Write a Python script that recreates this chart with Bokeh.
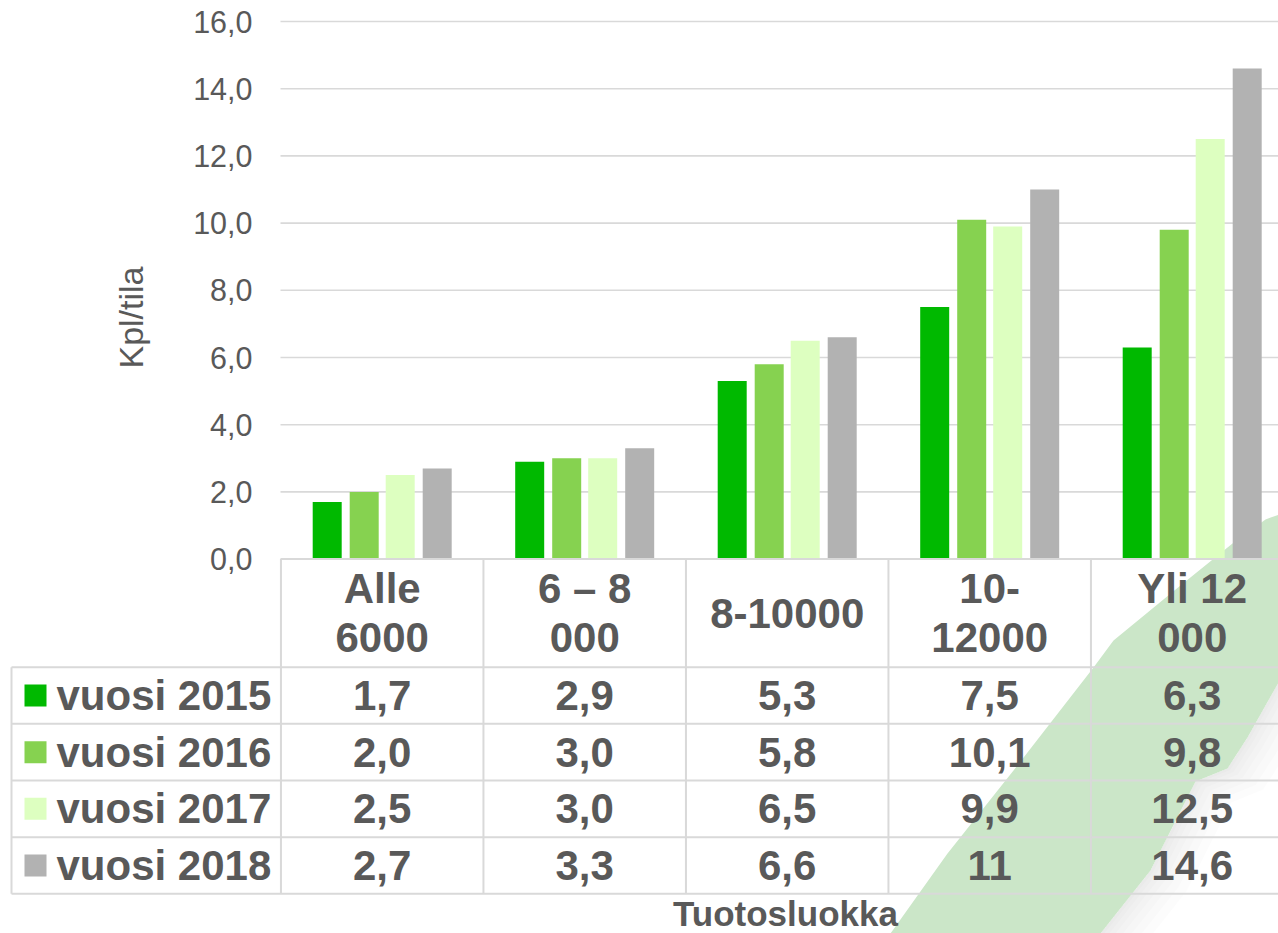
import math
from bokeh.plotting import figure
from bokeh.models import Range1d
from bokeh.core.properties import value
from bokeh.embed import file_html
from bokeh.resources import INLINE

# ---------------- data ----------------
categories = ["Alle 6000", "6 – 8 000", "8-10000", "10-12000", "Yli 12 000"]
header_lines = [["Alle", "6000"], ["6 – 8", "000"], ["8-10000"], ["10-", "12000"], ["Yli 12", "000"]]
series_names = ["vuosi 2015", "vuosi 2016", "vuosi 2017", "vuosi 2018"]
v2015 = [1.7, 2.9, 5.3, 7.5, 6.3]
v2016 = [2.0, 3.0, 5.8, 10.1, 9.8]
v2017 = [2.5, 3.0, 6.5, 9.9, 12.5]
v2018 = [2.7, 3.3, 6.6, 11.0, 14.6]
series_formats = ["fixed", "fixed", "fixed", "general"]
y_ticks = [0, 2, 4, 6, 8, 10, 12, 14, 16]
y_title = "Kpl/tila"
x_title = "Tuotosluokka"

series_values = [v2015, v2016, v2017, v2018]
colors = ["#00b900", "#86d250", "#ddffc0", "#b2b2b2"]

# ---------------- layout (pixel geometry of the picture) ----------------
W, H, OFF = 1278, 933, 0
PX_CAT, CAT0 = 202.5, 381.7       # px per category, centre of first category
PX_UNIT, ZERO = 33.6, 558.6       # px per value unit, y pixel of value 0


def X(px):
    return (px - CAT0) / PX_CAT


def Y(py):
    return (ZERO - py) / PX_UNIT


TXT = "#595959"
GRID = "#d9d9d9"
FONT = value("Liberation Sans")

p = figure(width=W, height=H,
           x_range=Range1d(X(OFF), X(OFF + W)),
           y_range=Range1d(Y(OFF + H), Y(OFF)),
           x_axis_location=None, y_axis_location=None,
           output_backend="svg", toolbar_location=None,
           min_border=0, outline_line_color=None)
p.grid.visible = False
p.background_fill_color = "white"

# ---------------- decorative swoosh (background) ----------------
# soft shadow to the lower right of the swoosh
sh = [(1295, 672), (1278, 682), (1247, 737), (1227, 768), (1195, 781), (1150, 870),
      (1100, 933)]
for d in [3, 7, 12, 18, 25, 33, 42]:
    pts = sh + [(a + d * 0.85, b + d * 0.5) for a, b in reversed(sh)]
    p.patch([X(a) for a, b in pts], [Y(b) for a, b in pts], fill_color="#8c8c8c",
            fill_alpha=0.022, line_color=None)
sw = [(890, 933), (947, 853), (1013, 770), (1093, 667), (1113, 640), (1180, 585),
      (1232, 543), (1265, 519), (1295, 508)] + sh
p.patch([X(a) for a, b in sw], [Y(b) for a, b in sw], fill_color="#cbe6c8",
        line_color=None)

# ---------------- gridlines ----------------
gy = y_ticks[1:]
p.segment(x0=[X(280)] * len(gy), x1=[X(1295)] * len(gy), y0=gy, y1=gy,
          line_color=GRID, line_width=1.6)

# ---------------- bars ----------------
offsets = [-55 / PX_CAT, -18 / PX_CAT, 18 / PX_CAT, 55 / PX_CAT]
bar_w = 29 / PX_CAT
for j, vals in enumerate(series_values):
    p.vbar(x=[i + offsets[j] for i in range(len(categories))], top=vals, bottom=0,
           width=bar_w, fill_color=colors[j], line_color=None)

# ---------------- y tick labels & title ----------------
p.text(x=[X(252)] * len(y_ticks), y=y_ticks,
       text=[f"{t:.1f}".replace(".", ",") for t in y_ticks],
       text_align="right", text_baseline="middle", text_font=FONT,
       text_font_size="30.5px", text_color=TXT)
p.text(x=[X(130)], y=[Y(317)], text=[y_title], angle=math.pi / 2,
       text_align="center", text_baseline="middle", text_font=FONT,
       text_font_size="34px", text_color=TXT)

# ---------------- data table ----------------
ROW_TOP, ROW_H = 666.7, 56.65
n = len(categories)
row_lines = [Y(ROW_TOP + ROW_H * r) for r in range(len(series_names) + 1)]
# horizontal lines
p.segment(x0=[X(280)], x1=[X(1295)], y0=[0], y1=[0], line_color=GRID, line_width=2)
p.segment(x0=[X(11)] * len(row_lines), x1=[X(1295)] * len(row_lines),
          y0=row_lines, y1=row_lines, line_color=GRID, line_width=2)
# vertical lines
vx = [i - 0.5 for i in range(n + 1)]
p.segment(x0=vx, x1=vx, y0=[0] * len(vx), y1=[row_lines[-1]] * len(vx),
          line_color=GRID, line_width=2)
p.segment(x0=[X(11)], x1=[X(11)], y0=[row_lines[0]], y1=[row_lines[-1]],
          line_color=GRID, line_width=2)

# header texts
hx, hy, ht = [], [], []
for i, lines in enumerate(header_lines):
    if len(lines) == 1:
        ys = [Y(613)]
    else:
        ys = [Y(588), Y(637)]
    for s, yy in zip(lines, ys):
        hx.append(i)
        hy.append(yy)
        ht.append(s)
p.text(x=hx, y=hy, text=ht, text_align="center", text_baseline="middle",
       text_font=FONT, text_font_style="bold", text_font_size="42px", text_color=TXT)


def fmt(v, kind):
    if kind == "general" and float(v).is_integer():
        return str(int(v))
    return f"{v:.1f}".replace(".", ",")


row_centres = [Y(ROW_TOP + ROW_H * (r + 0.5)) for r in range(len(series_names))]
for j, vals in enumerate(series_values):
    p.text(x=list(range(n)), y=[row_centres[j]] * n,
           text=[fmt(v, series_formats[j]) for v in vals],
           text_align="center", text_baseline="middle", text_font=FONT,
           text_font_style="bold", text_font_size="42px", text_color=TXT)

# legend keys in table
p.scatter(x=[X(35)] * len(series_names), y=row_centres, marker="square", size=22,
          fill_color=colors, line_color=None)
p.text(x=[X(56)] * len(series_names), y=row_centres, text=series_names,
       text_align="left", text_baseline="middle", text_font=FONT,
       text_font_style="bold", text_font_size="42px", text_color=TXT)

# x title
p.text(x=[X(785)], y=[Y(913)], text=[x_title], text_align="center",
       text_baseline="middle", text_font=FONT, text_font_style="bold",
       text_font_size="35px", text_color=TXT)

open("out.html", "w").write(file_html(p, INLINE))
